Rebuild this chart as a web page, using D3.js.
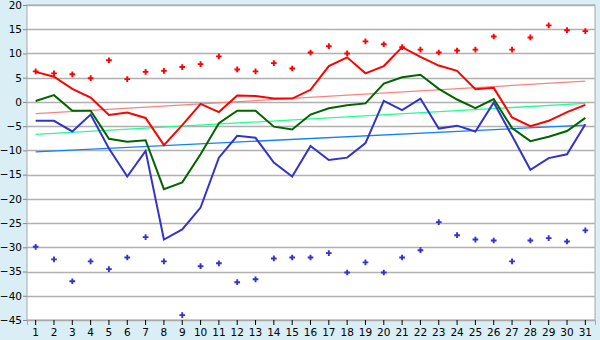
<!DOCTYPE html>
<html>
<head>
<meta charset="utf-8">
<script src="https://cdn.jsdelivr.net/npm/d3@7"></script>
<style>
  body { margin: 0; background: #daeef5; }
  svg { display: block; }
  text { font-family: "DejaVu Sans", sans-serif; font-size: 10.5px; fill: #000; }
</style>
</head>
<body>
<script>
(function() {

    const width = 600;
    const height = 340;

    // days of the month
    const days = d3.range(1, 32);

    // daily maximum, mean and minimum
    const maxTemp = [6.2, 5.2, 2.7, 0.9, -2.7, -2.2, -3.3, -8.9, -4.8, -0.4, -2.1, 1.3, 1.2, 0.7, 0.7, 2.5, 7.4, 9.2, 5.9, 7.4,
                     11.3, 9.3, 7.5, 6.4, 2.6, 2.9, -3.2, -5.0, -3.9, -2.1, -0.6];
    const meanTemp = [0.2, 1.4, -1.8, -1.8, -7.6, -8.2, -7.9, -18.0, -16.6, -10.8, -4.4, -1.8, -1.8, -5.1, -5.7, -2.6, -1.3, -0.7, -0.3, 3.8,
                      5.1, 5.6, 2.7, 0.5, -1.3, 0.6, -5.4, -8.1, -7.2, -6.0, -3.3];
    const minTemp = [-3.9, -3.9, -6.1, -2.6, -9.6, -15.4, -10.1, -28.4, -26.3, -21.8, -11.5, -7.0, -7.4, -12.5, -15.4, -9.1, -12.0, -11.5, -8.5, 0.2,
                     -1.7, 0.7, -5.5, -4.9, -6.1, -0.1, -7.0, -14.0, -11.6, -10.8, -4.6];

    // record highs and lows
    const recordHigh = [6.3, 5.9, 5.7, 4.9, 8.6, 4.7, 6.2, 6.4, 7.2, 7.8, 9.4, 6.7, 6.3, 8.0, 6.9, 10.2, 11.5, 10.0, 12.5, 11.9,
                        11.3, 10.8, 10.2, 10.6, 10.8, 13.5, 10.8, 13.3, 15.8, 14.8, 14.6];
    const recordLow = [-29.9, -32.5, -37.0, -32.9, -34.5, -32.1, -27.9, -32.9, -44.0, -33.9, -33.3, -37.2, -36.6, -32.3, -32.1, -32.1, -31.2, -35.2, -33.1, -35.2,
                       -32.1, -30.6, -24.8, -27.5, -28.4, -28.6, -32.9, -28.6, -28.1, -28.8, -26.5];

    // trend lines, value at day 1 and day 31
    const trendMax = [-2.4, 4.3];
    const trendMean = [-6.7, -0.3];
    const trendMin = [-10.3, -4.8];

    const yTicks = d3.range(-45, 21, 5);

    const margin = { top: 5, right: 5, bottom: 20, left: 27 };

    let svg = d3.select("body")
        .append("svg")
        .attr("width", width)
        .attr("height", height);

    let x = d3.scaleBand()
        .domain(days)
        .range([margin.left, width - margin.right]);

    let y = d3.scaleLinear()
        .domain([-45, 20])
        .range([height - margin.bottom, margin.top]);

    let cx = d => x(d) + x.bandwidth() / 2 - 0.5;

    // plot background
    svg.append("rect")
        .attr("x", margin.left)
        .attr("y", margin.top)
        .attr("width", width - margin.right - margin.left)
        .attr("height", height - margin.bottom - margin.top)
        .style("fill", "#fff")
        .style("stroke", "#a8a8a8");

    // grid
    svg.append("g")
        .selectAll("line")
        .data(yTicks)
        .enter()
        .append("line")
        .attr("x1", margin.left)
        .attr("x2", width - margin.right)
        .attr("y1", d => Math.round(y(d)) + 0.5)
        .attr("y2", d => Math.round(y(d)) + 0.5)
        .style("stroke", "#b0b0b0")
        .style("stroke-width", 1.5);

    // y axis labels
    let yAxis = svg.append("g")
        .attr("transform", "translate(" + margin.left + ",0)")
        .call(d3.axisLeft(y).tickValues(yTicks).tickSize(4).tickFormat(d3.format("d")));
    yAxis.select(".domain").remove();
    yAxis.selectAll("line").style("stroke", "#888");
    yAxis.selectAll("text").attr("x", -5).style("font-family", "DejaVu Sans").style("font-size", "10.5px");

    // x axis
    let xAxis = svg.append("g")
        .attr("transform", "translate(0," + (height - margin.bottom) + ")")
        .call(d3.axisBottom(x).tickSize(5).tickPadding(4));
    xAxis.select(".domain").style("stroke", "#a8a8a8");
    xAxis.selectAll(".tick").attr("transform", d => "translate(" + cx(d) + ",0)");
    xAxis.selectAll("line").style("stroke", "#000");
    xAxis.selectAll("text").style("font-family", "DejaVu Sans").style("font-size", "10.5px");

    // trend lines
    let trends = [[trendMax, "#ff8080"], [trendMean, "#20ff90"], [trendMin, "#1080ff"]];
    trends.forEach(function(t) {
        svg.append("line")
            .attr("x1", cx(1))
            .attr("x2", cx(31))
            .attr("y1", y(t[0][0]))
            .attr("y2", y(t[0][1]))
            .style("stroke", t[1])
            .style("stroke-width", 1.3);
    });

    let line = d3.line()
        .x((d, i) => cx(days[i]))
        .y(d => y(d));

    let series = [[minTemp, "#3333cc"], [meanTemp, "#006400"], [maxTemp, "#ff0000"]];
    series.forEach(function(s) {
        svg.append("path")
            .datum(s[0])
            .attr("d", line)
            .style("fill", "none")
            .style("stroke", s[1])
            .style("stroke-width", 2);
    });

    // record markers
    let marker = d3.symbol().type(d3.symbolCross).size(18);
    let marks = [[recordHigh, "#ff0000"], [recordLow, "#3333cc"]];
    marks.forEach(function(m) {
        svg.append("g")
            .selectAll("path")
            .data(m[0])
            .enter()
            .append("path")
            .attr("d", marker)
            .attr("transform", (d, i) => "translate(" + cx(days[i]) + "," + y(d) + ")")
            .style("fill", m[1]);
    });

})();
</script>
</body>
</html>
